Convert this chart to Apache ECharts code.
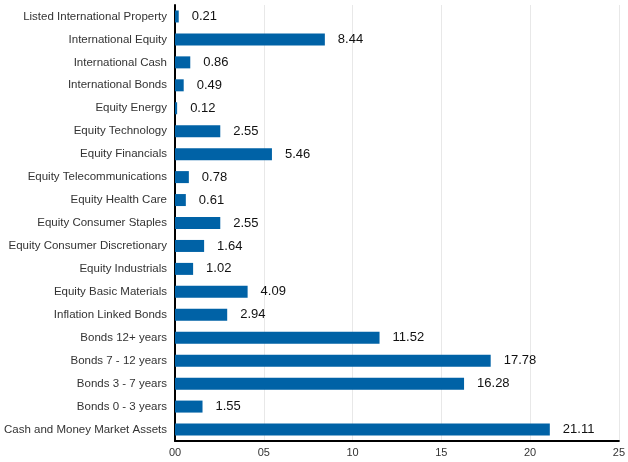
<!DOCTYPE html>
<html>
<head>
<meta charset="utf-8">
<script src="https://cdn.jsdelivr.net/npm/echarts@6/dist/echarts.min.js"></script>
<style>
  html, body { margin: 0; padding: 0; background: #fff; }
  #chart { width: 628px; height: 462px; }
</style>
</head>
<body>
<div id="chart"></div>
<script>
// categories, bottom to top (as the y axis draws them)
var categories = [
  'Cash and Money Market Assets',
  'Bonds 0 - 3 years',
  'Bonds 3 - 7 years',
  'Bonds 7 - 12 years',
  'Bonds 12+ years',
  'Inflation Linked Bonds',
  'Equity Basic Materials',
  'Equity Industrials',
  'Equity Consumer Discretionary',
  'Equity Consumer Staples',
  'Equity Health Care',
  'Equity Telecommunications',
  'Equity Financials',
  'Equity Technology',
  'Equity Energy',
  'International Bonds',
  'International Cash',
  'International Equity',
  'Listed International Property'
];
var values = [21.11, 1.55, 16.28, 17.78, 11.52, 2.94, 4.09, 1.02, 1.64, 2.55,
  0.61, 0.78, 5.46, 2.55, 0.12, 0.49, 0.86, 8.44, 0.21];
var xTicks = ['00', '05', '10', '15', '20', '25'];

var chart = echarts.init(document.getElementById('chart'));
chart.setOption({
  animation: false,
  textStyle: { fontFamily: 'Liberation Sans, Arial, sans-serif' },
  grid: { left: 175, right: 5, top: 5, bottom: 21, containLabel: false },
  xAxis: {
    type: 'value',
    min: 0, max: 25, interval: 5,
    axisLine: { show: true, lineStyle: { color: '#000', width: 2 } },
    axisTick: { show: false },
    splitLine: { show: true, lineStyle: { color: '#e8e8e8', width: 1 } },
    axisLabel: {
      color: '#333', fontSize: 11, margin: 6,
      formatter: function (v) { return xTicks[Math.round(v / 5)]; }
    }
  },
  yAxis: {
    type: 'category',
    data: categories,
    axisLine: { show: true, lineStyle: { color: '#000', width: 2 } },
    axisTick: { show: false },
    axisLabel: { color: '#333', fontSize: 11.5, margin: 8 }
  },
  series: [{
    type: 'bar',
    data: values,
    barWidth: 12,
    itemStyle: { color: '#0062a6' },
    label: {
      show: true, position: 'right', distance: 13,
      color: '#111', fontSize: 13,
      formatter: function (p) { return p.value.toFixed(2); }
    }
  }]
});
</script>
</body>
</html>
